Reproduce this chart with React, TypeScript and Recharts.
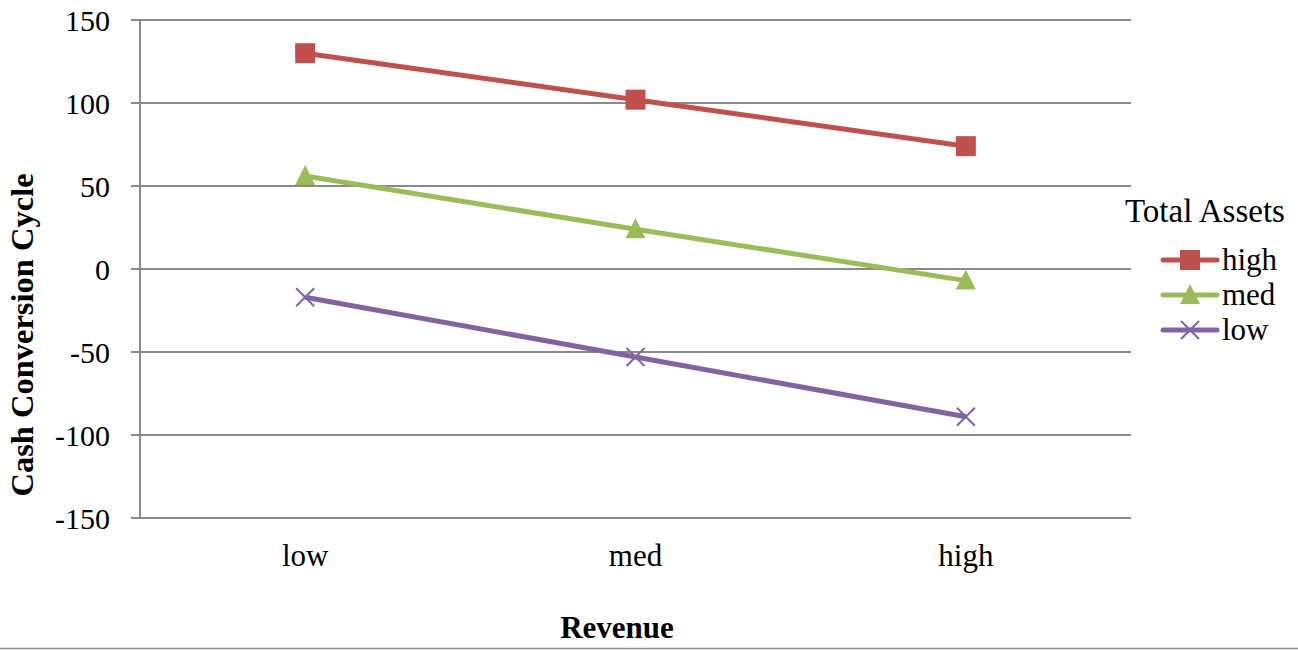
import React from 'react';
import { LineChart, Line, XAxis, YAxis, CartesianGrid } from 'recharts';

const categories = ['low', 'med', 'high'];
const highSeries = [130, 102, 74];
const medSeries = [56, 24, -7];
const lowSeries = [-17, -53, -89];
const yTicks = [-150, -100, -50, 0, 50, 100, 150];
const edgeTicks = [0, 1, 2, 3];
const seriesNames = ['high', 'med', 'low'];

const RED = '#C0504D';
const GREEN = '#9BBB59';
const PURPLE = '#8064A2';
const GRID = '#8a8a8a';
const FONT = '"Liberation Serif", "Times New Roman", serif';

const data = categories.map((c, i) => ({
  revenue: c,
  high: highSeries[i],
  med: medSeries[i],
  low: lowSeries[i],
}));

const squareDot = (p: any) => (
  <rect key={`sq-${p.index}`} x={p.cx - 10} y={p.cy - 10} width={20} height={20} fill={RED} />
);
const triDot = (p: any) => (
  <polygon
    key={`tr-${p.index}`}
    points={`${p.cx},${p.cy - 11} ${p.cx + 10},${p.cy + 9} ${p.cx - 10},${p.cy + 9}`}
    fill={GREEN}
  />
);
const xDot = (p: any) => (
  <g key={`x-${p.index}`}>
    <line x1={p.cx - 9} y1={p.cy - 9} x2={p.cx + 9} y2={p.cy + 9} stroke={PURPLE} strokeWidth={2} />
    <line x1={p.cx - 9} y1={p.cy + 9} x2={p.cx + 9} y2={p.cy - 9} stroke={PURPLE} strokeWidth={2} />
  </g>
);

const legendColors = [RED, GREEN, PURPLE];

const LegendBox = () => (
  <svg width={200} height={170} style={{ position: 'absolute', left: 1110, top: 190 }}>
    <text x={15} y={32} fontFamily={FONT} fontSize={33} fill="#000">Total Assets</text>
    {seriesNames.map((name, i) => {
      const cy = 70 + i * 35;
      const cx = 80;
      return (
        <g key={name}>
          <line x1={53} y1={cy} x2={107} y2={cy} stroke={legendColors[i]} strokeWidth={5} strokeLinecap="round" />
          {i === 0 && <rect x={cx - 10} y={cy - 10} width={20} height={20} fill={RED} />}
          {i === 1 && <polygon points={`${cx},${cy - 11} ${cx + 10},${cy + 9} ${cx - 10},${cy + 9}`} fill={GREEN} />}
          {i === 2 && (
            <g>
              <line x1={cx - 9} y1={cy - 9} x2={cx + 9} y2={cy + 9} stroke={PURPLE} strokeWidth={2} />
              <line x1={cx - 9} y1={cy + 9} x2={cx + 9} y2={cy - 9} stroke={PURPLE} strokeWidth={2} />
            </g>
          )}
          <text x={112} y={cy + 10} fontFamily={FONT} fontSize={31} fill="#000">{name}</text>
        </g>
      );
    })}
  </svg>
);

export default function App() {
  const tickStyle = { fill: '#000', fontSize: 30, fontFamily: FONT };
  const xTickStyle = { fill: '#000', fontSize: 31, fontFamily: FONT };
  return (
    <div style={{ position: 'absolute', left: 0, top: 0, width: 1298, height: 650, background: '#fff' }}>
      <LineChart width={1298} height={650} data={data} margin={{ top: 20, right: 167, bottom: 0, left: 0 }}>
        <CartesianGrid vertical={false} stroke={GRID} strokeWidth={2} />
        <XAxis
          xAxisId="edges"
          type="number"
          domain={[0, 3]}
          ticks={edgeTicks}
          height={0}
          tickSize={9}
          tickFormatter={() => ''}
          axisLine={{ stroke: GRID, strokeWidth: 2 }}
          tickLine={{ stroke: GRID, strokeWidth: 2 }}
        />
        <XAxis
          dataKey="revenue"
          scale="band"
          height={132}
          axisLine={false}
          tickLine={false}
          tickSize={0}
          tickMargin={26}
          tick={xTickStyle}
          interval={0}
        />
        <YAxis
          width={140}
          domain={[-150, 150]}
          ticks={yTicks}
          tickSize={9}
          tickMargin={21}
          tick={tickStyle}
          axisLine={{ stroke: GRID, strokeWidth: 2 }}
          tickLine={{ stroke: GRID, strokeWidth: 2 }}
          interval={0}
        />
        <Line dataKey="high" stroke={RED} strokeWidth={5} dot={squareDot} activeDot={false} isAnimationActive={false} />
        <Line dataKey="med" stroke={GREEN} strokeWidth={5} dot={triDot} activeDot={false} isAnimationActive={false} />
        <Line dataKey="low" stroke={PURPLE} strokeWidth={5} dot={xDot} activeDot={false} isAnimationActive={false} />
      </LineChart>
      <svg width={1298} height={650} style={{ position: 'absolute', left: 0, top: 0, pointerEvents: 'none' }}>
        <text
          transform="translate(33,335) rotate(-90)"
          textAnchor="middle"
          fontFamily={FONT}
          fontWeight="bold"
          fontSize={32.5}
          fill="#000"
        >
          Cash Conversion Cycle
        </text>
        <text x={617} y={638} textAnchor="middle" fontFamily={FONT} fontWeight="bold" fontSize={31} fill="#000">
          Revenue
        </text>
        <line x1={0} y1={648.5} x2={1298} y2={648.5} stroke="#8c8c8c" strokeWidth={1.5} />
      </svg>
      <LegendBox />
    </div>
  );
}
